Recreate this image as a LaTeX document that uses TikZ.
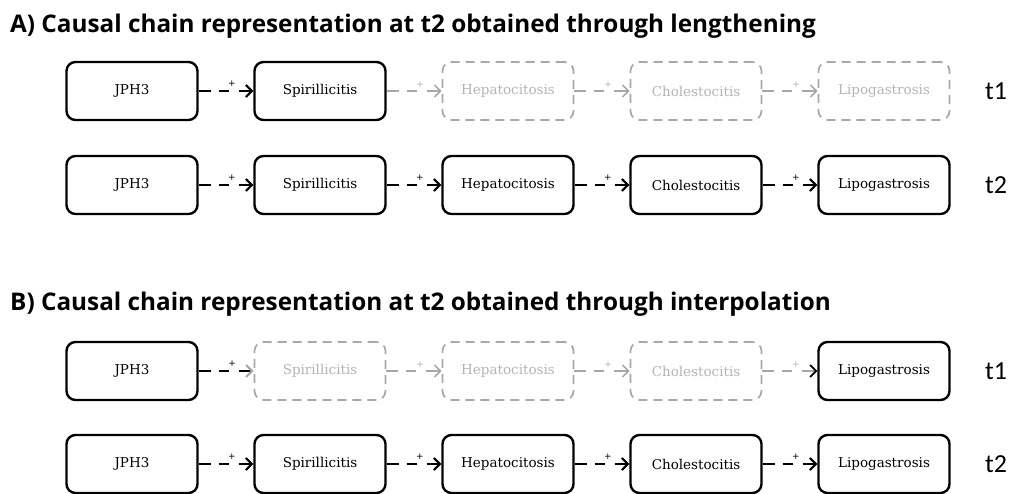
\documentclass[tikz,border=0pt]{standalone}
\usepackage{fontspec}
\setmainfont{DejaVu Serif}
\newfontfamily\headfont{Open Sans}
\newfontfamily\stampfont{Carlito}
\newfontfamily\signfont{DejaVu Sans}
\usetikzlibrary{arrows.meta}

\definecolor{ghostline}{HTML}{A8A8A8}
\definecolor{ghosttext}{HTML}{B4B4B4}

\tikzset{
  heading/.style={anchor=base west, inner sep=0pt, font=\headfont\bfseries\fontsize{24.3}{28}\selectfont},
  stamp/.style={anchor=center, inner sep=0pt, font=\stampfont\fontsize{26}{28}\selectfont},
  box/.style={draw=black, line width=2.4pt, rounded corners=9pt, minimum width=131pt,
    minimum height=58pt, inner sep=0pt, font=\fontsize{13.5}{15}\selectfont},
  ghost/.style={box, draw=ghostline, line width=1.7pt, dash pattern=on 9pt off 6pt,
    text=ghosttext},
  link/.style={line width=2.1pt, dash pattern=on 12pt off 8pt on 10pt off 10pt on 30pt,
    -{Straight Barb[length=6pt,width=12pt]}},
  glink/.style={link, line width=1.6pt, draw=ghostline},
  tipghost/.style={-{Straight Barb[length=6pt,width=12pt,color=ghostline]}},
  tipblack/.style={-{Straight Barb[length=6pt,width=12pt,color=black]}},
  sign/.style={pos=0.61, above=3pt, inner sep=0pt, font=\signfont\fontsize{9}{9}\selectfont},
}

\begin{document}
\begin{tikzpicture}[x=1pt,y=-1pt]
\useasboundingbox (0,0) rectangle (1012,493);
\fill[white] (0,0) rectangle (1012,493);

% ---------- A) lengthening ----------
\node[heading] (headA) at (10,32) {A) Causal chain representation at t2 obtained through lengthening};

% t1
\node[box]   (a11) at (132,91) {JPH3};
\node[box]   (a12) at (320,91) {Spirillicitis};
\node[ghost] (a13) at (508,91) {Hepatocitosis};
\node[ghost] (a14) at (696,91) {Cholestocitis};
\node[ghost] (a15) at (884,91) {Lipogastrosis};
\node[stamp] (ta1) at (996,91) {t1};

\draw[link] (a11.east) -- node[sign]{+} (a12.west);
\draw[line width=2.1pt] (a12.east) -- ++(11,0);
\draw[glink] (a12.east) -- node[sign, text=ghosttext]{+} (a13.west);
\draw[glink] (a13.east) -- node[sign, text=ghosttext]{+} (a14.west);
\draw[glink] (a14.east) -- node[sign, text=ghosttext]{+} (a15.west);

% t2
\node[box] (a21) at (132,185) {JPH3};
\node[box] (a22) at (320,185) {Spirillicitis};
\node[box] (a23) at (508,185) {Hepatocitosis};
\node[box] (a24) at (696,185) {Cholestocitis};
\node[box] (a25) at (884,185) {Lipogastrosis};
\node[stamp] (ta2) at (996,185) {t2};

\draw[link] (a21.east) -- node[sign]{+} (a22.west);
\draw[link] (a22.east) -- node[sign]{+} (a23.west);
\draw[link] (a23.east) -- node[sign]{+} (a24.west);
\draw[link] (a24.east) -- node[sign]{+} (a25.west);

% ---------- B) interpolation ----------
\node[heading] (headB) at (10,310) {B) Causal chain representation at t2 obtained through interpolation};

% t1
\node[box]   (b11) at (132,371) {JPH3};
\node[ghost] (b12) at (320,371) {Spirillicitis};
\node[ghost] (b13) at (508,371) {Hepatocitosis};
\node[ghost] (b14) at (696,371) {Cholestocitis};
\node[box]   (b15) at (884,371) {Lipogastrosis};
\node[stamp] (tb1) at (996,371) {t1};

\draw[link, tipghost] (b11.east) -- node[sign]{+} (b12.west);
\draw[glink] (b12.east) -- node[sign, text=ghosttext]{+} (b13.west);
\draw[glink] (b13.east) -- node[sign, text=ghosttext]{+} (b14.west);
\draw[glink, line width=1.8pt, tipblack] (b14.east) -- node[sign, text=ghosttext]{+} (b15.west);

% t2
\node[box] (b21) at (132,464) {JPH3};
\node[box] (b22) at (320,464) {Spirillicitis};
\node[box] (b23) at (508,464) {Hepatocitosis};
\node[box] (b24) at (696,464) {Cholestocitis};
\node[box] (b25) at (884,464) {Lipogastrosis};
\node[stamp] (tb2) at (996,464) {t2};

\draw[link] (b21.east) -- node[sign]{+} (b22.west);
\draw[link] (b22.east) -- node[sign]{+} (b23.west);
\draw[link] (b23.east) -- node[sign]{+} (b24.west);
\draw[link] (b24.east) -- node[sign]{+} (b25.west);
\end{tikzpicture}
\end{document}
